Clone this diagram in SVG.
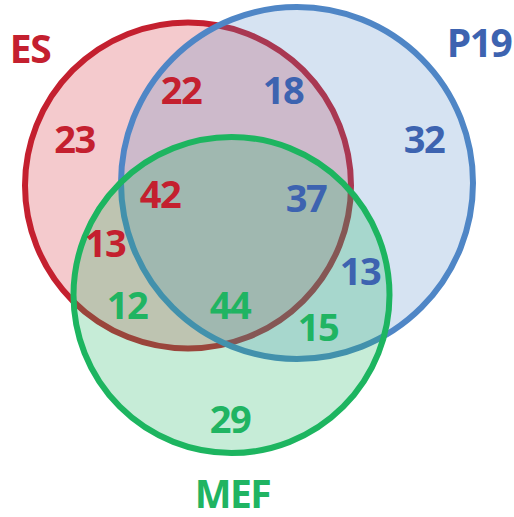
<svg xmlns="http://www.w3.org/2000/svg" width="514" height="517" viewBox="0 0 514 517">
<style>
.t{font-family:"Open Sans",Lato,"Liberation Sans",sans-serif;font-weight:bold;text-anchor:middle;font-size:38px;letter-spacing:-1.5px}
.lab{font-size:39px}
.r{fill:#c4202f}
.b{fill:#3d63b0}
.g{fill:#20b462}
.c{stroke-width:6}
</style>
<rect width="514" height="517" fill="#ffffff"/>
<g id="ES">
<circle class="c" cx="188" cy="185.5" r="163" fill="#d22630" fill-opacity="0.245" stroke="#c4202f"/>
</g>
<g id="P19">
<circle class="c" cx="297" cy="183" r="176" fill="#4f86c6" fill-opacity="0.235" stroke="#4f86c6"/>
</g>
<g id="MEF">
<circle class="c" cx="231.5" cy="295" r="158" fill="#1db560" fill-opacity="0.25" stroke="#1db560"/>
</g>
<g id="labels">
<text class="t lab r" x="30" y="63">ES</text>
<text class="t lab b" x="479" y="57">P19</text>
<text class="t lab g" x="232.5" y="508">MEF</text>
</g>
<g id="numbers">
<text class="t r" x="74.5" y="153">23</text>
<text class="t r" x="181" y="104">22</text>
<text class="t r" x="160" y="208">42</text>
<text class="t r" x="105" y="257">13</text>
<text class="t b" x="283" y="104">18</text>
<text class="t b" x="424" y="153">32</text>
<text class="t b" x="306" y="212">37</text>
<text class="t b" x="360" y="285">13</text>
<text class="t g" x="127" y="319">12</text>
<text class="t g" x="230" y="319">44</text>
<text class="t g" x="318" y="341">15</text>
<text class="t g" x="230" y="433">29</text>
</g>
</svg>
